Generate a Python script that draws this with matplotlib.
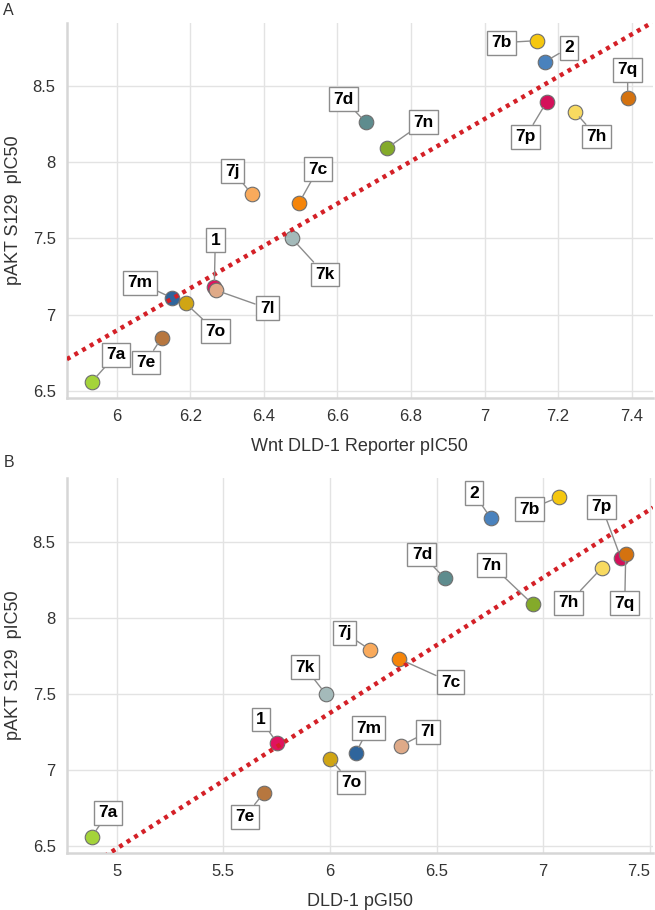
import numpy as np
import matplotlib
matplotlib.use("Agg")
import matplotlib.pyplot as plt

plt.rcParams['font.family'] = ['Liberation Sans', 'DejaVu Sans']

# ─── data ────────────────────────────────────────────────────────────────────
COMPOUNDS = ["1", "2", "7a", "7b", "7c", "7d", "7e", "7h",
             "7j", "7k", "7l", "7m", "7n", "7o", "7p", "7q"]

PAKT_PIC50 = [7.18, 8.657, 6.56, 8.795, 7.73, 8.26, 6.85, 8.33,
              7.79, 7.50, 7.16, 7.11, 8.09, 7.075, 8.395, 8.42]

WNT_PIC50 = [6.265, 7.164, 5.932, 7.142, 6.495, 6.677, 6.122, 7.245,
             6.367, 6.476, 6.270, 6.150, 6.734, 6.187, 7.169, 7.389]

DLD1_PGI50 = [5.751, 6.754, 4.883, 7.073, 6.326, 6.539, 5.690, 7.275,
              6.190, 5.980, 6.333, 6.120, 6.951, 6.000, 7.364, 7.387]

COLORS = {
    "1": "#E0135E", "2": "#4A82BD", "7a": "#A4D33A", "7b": "#F5C70F",
    "7c": "#F5850A", "7d": "#5E8C8E", "7e": "#B7773F", "7h": "#F8DA60",
    "7j": "#F9AA5C", "7k": "#A4BABA", "7l": "#DFAA88", "7m": "#2F659C",
    "7n": "#84AA2A", "7o": "#D0A514", "7p": "#D4105A", "7q": "#D4720F",
}

# label offsets in pixels (dx, dy) from the point
OFFSETS_A = {
    "1": (1, 47), "2": (24, 14), "7a": (24, 27), "7b": (-35, -2),
    "7c": (19, 34), "7d": (-22, 23), "7e": (-16, -25), "7h": (22, -25),
    "7j": (-19, 23), "7k": (33, -36), "7l": (51, -18), "7m": (-32, 15),
    "7n": (37, 26), "7o": (30, -28), "7p": (-21, -35), "7q": (0, 28),
}
OFFSETS_B = {
    "1": (-16, 23), "2": (-17, 25), "7a": (16, 24), "7b": (-29, -12),
    "7c": (51, -23), "7d": (-23, 24), "7e": (-19, -24), "7h": (-33, -35),
    "7j": (-26, 17), "7k": (-21, 27), "7l": (27, 14), "7m": (13, 25),
    "7n": (-41, 39), "7o": (21, -24), "7p": (-19, 51), "7q": (-1, -49),
}

GRID_C = "#E3E3E3"
SPINE_C = "#D6D6D6"
TEXT_C = "#333333"
LINE_C = "#D42027"


def draw_panel(ax, x, y, offsets, xlim, ylim, xticks, xlabel):
    x = np.asarray(x)
    y = np.asarray(y)
    ax.set_xlim(*xlim)
    ax.set_ylim(*ylim)

    # regression trendline across the whole axis
    slope, icpt = np.polyfit(x, y, 1)
    xs = np.array(xlim)
    ax.plot(xs, slope * xs + icpt, color=LINE_C, lw=3.2,
            linestyle=(0, (0.9, 1.1)), zorder=4)

    for i, name in enumerate(COMPOUNDS):
        ax.scatter(x[i], y[i], s=110, color=COLORS[name],
                   edgecolors="#6E6E6E", linewidths=0.8, zorder=3)
        dx, dy = offsets[name]
        ax.annotate(name, xy=(x[i], y[i]), xytext=(dx, dy),
                    textcoords="offset pixels", ha="center", va="center",
                    fontsize=12.5, fontweight="bold", color="black",
                    bbox=dict(boxstyle="square,pad=0.25", fc="white",
                              ec="#8C8C8C", lw=1.0),
                    arrowprops=dict(arrowstyle="-", color="#8C8C8C", lw=1.0,
                                    shrinkA=0, shrinkB=5),
                    zorder=6)

    ax.set_xticks(xticks)
    ax.set_xticklabels([f"{t:g}" for t in xticks])
    ax.set_yticks([6.5, 7, 7.5, 8, 8.5])
    ax.set_yticklabels(["6.5", "7", "7.5", "8", "8.5"])
    ax.grid(True, color=GRID_C, lw=1.0)
    ax.set_axisbelow(True)
    ax.tick_params(axis="both", length=0, labelsize=12, colors=TEXT_C, pad=8)
    for s in ["top", "right"]:
        ax.spines[s].set_visible(False)
    for s in ["left", "bottom"]:
        ax.spines[s].set_color(SPINE_C)
        ax.spines[s].set_linewidth(1.8)
    ax.set_xlabel(xlabel, fontsize=13, color=TEXT_C, labelpad=10)
    ax.set_ylabel("pAKT S129  pIC50", fontsize=13, color=TEXT_C, labelpad=8)


fig = plt.figure(figsize=(6.55, 9.10), dpi=100)
ax_a = fig.add_axes([0.102, 0.5626, 0.895, 0.412])
ax_b = fig.add_axes([0.102, 0.0626, 0.895, 0.412])

draw_panel(ax_a, WNT_PIC50, PAKT_PIC50, OFFSETS_A, (5.864, 7.458), (6.454, 8.91),
           [6, 6.2, 6.4, 6.6, 6.8, 7, 7.2, 7.4], "Wnt DLD-1 Reporter pIC50")
draw_panel(ax_b, DLD1_PGI50, PAKT_PIC50, OFFSETS_B, (4.766, 7.515), (6.454, 8.92),
           [5, 5.5, 6, 6.5, 7, 7.5], "DLD-1 pGI50")

# keep the last bottom tick label inside the figure
ax_b.get_xticklabels()[-1].set_horizontalalignment("right")
ax_b.get_xticklabels()[-1].set_x(7.515)

fig.text(0.005, 0.997, "A", fontsize=11.5, color=TEXT_C, va="top", ha="left")
fig.text(0.005, 0.5, "B", fontsize=11.5, color=TEXT_C, va="top", ha="left")

fig.savefig("out.png", dpi=100)
